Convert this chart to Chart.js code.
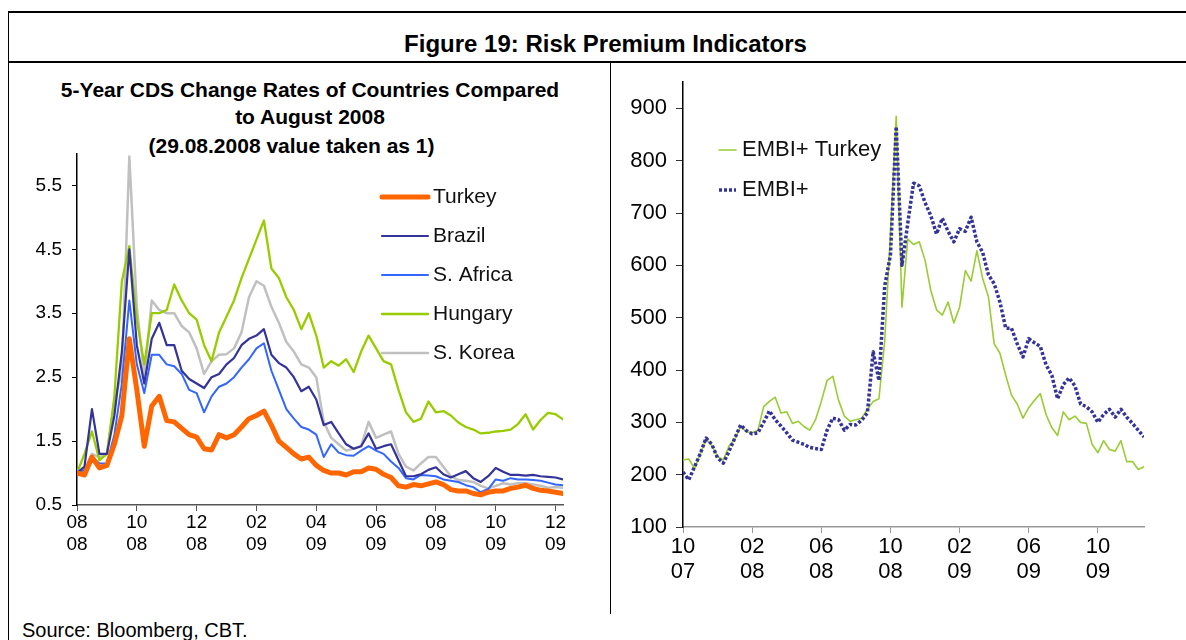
<!DOCTYPE html>
<html>
<head>
<meta charset="utf-8">
<title>Figure 19: Risk Premium Indicators</title>
<script src="https://cdn.jsdelivr.net/npm/chart.js@4.4.1/dist/chart.umd.min.js"></script>
<style>
  html, body { margin: 0; padding: 0; background: #fff; }
  body { position: relative; width: 1186px; height: 640px; overflow: hidden;
         font-family: 'Liberation Sans', Arial, sans-serif; color: #000; }
  .rule { position: absolute; background: #000; }
  .txt { position: absolute; white-space: nowrap; text-align: center; }
  canvas { position: absolute; }
</style>
</head>
<body>
  <!-- frame -->
  <div class="rule" style="left:8px;top:11px;width:1178px;height:1.5px;"></div>
  <div class="rule" style="left:7.5px;top:11px;width:1.5px;height:629px;"></div>
  <div class="rule" style="left:8px;top:61px;width:1178px;height:1.5px;"></div>
  <div class="rule" style="left:609.5px;top:61px;width:1.5px;height:553px;"></div>

  <div class="txt" style="left:0;width:1211px;top:30px;font:bold 24px/28px 'Liberation Sans',Arial,sans-serif;">Figure 19: Risk Premium Indicators</div>

  <div class="txt" style="left:0;width:620px;top:76px;font:bold 21px/27px 'Liberation Sans',Arial,sans-serif;">5-Year CDS Change Rates of Countries Compared<br>to August 2008</div>
  <div class="txt" style="left:0;width:583px;top:132px;font:bold 21px/27px 'Liberation Sans',Arial,sans-serif;">(29.08.2008 value taken as 1)</div>

  <div class="txt" style="left:22px;top:618px;text-align:left;font:20px/24px 'Liberation Sans',Arial,sans-serif;">Source: Bloomberg, CBT.</div>

  <canvas id="cds" width="580" height="428" style="left:0;top:132px;"></canvas>
  <canvas id="embi" width="574" height="550" style="left:612px;top:60px;"></canvas>

<script>
// ---- left panel: 5y CDS, 29.08.2008 = 1, one value per week ----
var cdsStep = 0.25;                       // months between points
var cdsTickPos = [0, 2, 4, 6, 8, 10, 12, 14, 16];
var cdsTickMonth = ['08', '10', '12', '02', '04', '06', '08', '10', '12'];
var cdsTickYear = ['08', '08', '08', '09', '09', '09', '09', '09', '09'];
var cdsYTicks = [0.5, 1.5, 2.5, 3.5, 4.5, 5.5];

var turkeyCds = [1.00,0.97,1.25,1.08,1.12,1.45,1.90,3.10,2.30,1.42,
  2.05,2.20,1.82,1.80,1.70,1.60,1.56,1.38,1.36,1.60,
  1.55,1.60,1.72,1.85,1.90,1.97,1.75,1.50,1.40,1.30,
  1.22,1.25,1.12,1.04,1.00,1.00,0.97,1.02,1.02,1.08,
  1.06,0.98,0.93,0.80,0.78,0.82,0.80,0.83,0.86,0.82,
  0.74,0.72,0.72,0.68,0.66,0.70,0.72,0.72,0.76,0.78,
  0.81,0.76,0.73,0.72,0.70,0.68];
var brazilCds = [1.00,1.10,2.00,1.30,1.30,1.90,2.90,4.50,3.00,2.40,
  3.10,3.35,3.00,3.00,2.60,2.47,2.40,2.33,2.50,2.55,
  2.70,2.80,3.00,3.10,3.15,3.25,2.85,2.72,2.65,2.50,
  2.28,2.35,2.15,1.75,1.80,1.62,1.45,1.38,1.42,1.62,
  1.38,1.42,1.45,1.20,0.95,0.95,0.98,1.05,1.09,0.98,
  0.93,0.98,1.03,0.92,0.86,0.95,1.08,1.02,0.97,0.97,
  0.96,0.97,0.95,0.94,0.93,0.90];
var safricaCds = [1.00,1.05,1.25,1.15,1.15,1.60,2.40,3.70,2.70,2.25,
  2.85,2.85,2.70,2.67,2.55,2.30,2.25,1.95,2.20,2.35,
  2.40,2.50,2.65,2.78,2.95,3.03,2.60,2.30,2.00,1.85,
  1.72,1.68,1.60,1.25,1.45,1.32,1.28,1.27,1.35,1.42,
  1.35,1.30,1.18,1.08,0.92,0.90,0.97,0.96,0.95,0.90,
  0.88,0.86,0.81,0.78,0.70,0.75,0.90,0.88,0.92,0.90,
  0.90,0.89,0.88,0.85,0.82,0.81];
var hungaryCds = [1.00,1.30,1.65,1.20,1.30,2.20,4.00,4.55,3.40,2.70,
  3.50,3.50,3.55,3.95,3.70,3.50,3.40,3.00,2.75,3.20,
  3.45,3.70,4.05,4.35,4.65,4.95,4.20,4.05,3.75,3.55,
  3.25,3.50,3.15,2.65,2.75,2.68,2.78,2.58,2.90,3.15,
  2.95,2.75,2.70,2.30,1.95,1.80,1.85,2.12,1.95,1.97,
  1.90,1.79,1.72,1.68,1.62,1.63,1.65,1.66,1.68,1.77,
  1.92,1.68,1.83,1.94,1.92,1.84];
var koreaCds = [1.00,1.05,1.30,1.25,1.30,2.10,2.60,5.95,3.60,2.50,
  3.70,3.55,3.50,3.50,3.30,3.20,2.95,2.55,2.75,2.85,
  2.86,2.95,3.20,3.75,4.00,3.93,3.60,3.35,3.05,2.90,
  2.70,2.65,2.50,1.80,1.55,1.45,1.35,1.38,1.42,1.80,
  1.55,1.60,1.65,1.30,1.10,1.04,1.15,1.25,1.25,1.10,
  0.95,0.89,0.88,0.86,0.80,0.76,0.80,0.84,0.82,0.84,
  0.84,0.82,0.80,0.77,0.78,0.77];

// ---- right panel: EMBI+ spreads (bp), three points per month from Oct 2007 ----
var embiStep = 1 / 3;
var embiTickPos = [0, 4, 8, 12, 16, 20, 24];
var embiTickMonth = ['10', '02', '06', '10', '02', '06', '10'];
var embiTickYear = ['07', '08', '08', '08', '09', '09', '09'];
var embiYTicks = [100, 200, 300, 400, 500, 600, 700, 800, 900];

var embiTurkey = [228,230,212,240,268,256,235,228,255,268,
  292,282,280,285,330,340,348,318,320,298,
  302,292,285,305,340,380,388,342,312,302,
  305,308,325,340,345,455,660,885,520,650,
  640,645,610,552,515,505,530,490,520,590,
  570,628,575,540,450,432,390,352,335,308,
  328,342,355,315,290,275,320,305,312,300,
  298,258,242,265,248,245,265,225,225,210,
  215];
var embiGlobal = [205,190,215,240,270,258,232,222,245,270,
  295,284,278,280,300,322,305,293,280,266,
  262,258,252,250,248,285,308,305,285,296,
  295,304,318,435,380,560,620,865,600,680,
  757,752,720,695,660,690,665,645,670,665,
  692,645,625,582,565,530,480,480,450,425,
  460,452,445,410,390,345,372,385,370,335,
  330,320,300,315,325,310,325,310,298,285,
  272];

var FONT = "'Liberation Sans', Arial, sans-serif";
Chart.defaults.font.family = FONT;
Chart.defaults.color = '#000';

function toPoints(values, step) {
    return values.map(function (v, i) { return { x: i * step, y: v }; });
}
function fixedTicks(list) {
    return function (scale) { scale.ticks = list.map(function (v) { return { value: v }; }); };
}

// legend drawn as a column of line samples at a given spot of the canvas
var lineLegend = {
    id: 'lineLegend',
    afterDraw: function (chart, args, o) {
        var ctx = chart.ctx;
        ctx.save();
        ctx.font = o.size + 'px ' + FONT;
        ctx.textBaseline = 'middle';
        o.order.forEach(function (di, row) {
            var ds = chart.data.datasets[di];
            var y = o.y + row * o.rowGap;
            ctx.strokeStyle = ds.borderColor;
            ctx.lineWidth = ds.borderWidth;
            ctx.lineCap = ds.borderDash ? 'butt' : 'round';
            ctx.setLineDash(ds.borderDash || []);
            ctx.beginPath();
            ctx.moveTo(o.x, y);
            ctx.lineTo(o.x + o.sample, y);
            ctx.stroke();
            ctx.setLineDash([]);
            ctx.fillStyle = '#111';
            ctx.fillText(ds.label, o.x + o.sample + o.gap, y);
        });
        ctx.restore();
    }
};

function series(label, values, step, color, width, extra) {
    var ds = { label: label, data: toPoints(values, step), borderColor: color,
        borderWidth: width, pointRadius: 0, tension: 0, fill: false,
        borderJoinStyle: 'round', borderCapStyle: 'round' };
    for (var k in extra) ds[k] = extra[k];
    return ds;
}

new Chart(document.getElementById('cds'), {
    type: 'line',
    data: { datasets: [
        series('Turkey', turkeyCds, cdsStep, '#FF6600', 5),
        series('Brazil', brazilCds, cdsStep, '#333399', 2.2),
        series('S. Africa', safricaCds, cdsStep, '#3366FF', 2),
        series('Hungary', hungaryCds, cdsStep, '#99CC00', 2.3),
        series('S. Korea', koreaCds, cdsStep, '#C0C0C0', 2.5)
    ] },
    plugins: [lineLegend],
    options: {
        responsive: false, animation: false, events: [],
        layout: { padding: { top: 4, right: 17, left: 0, bottom: 0 } },
        plugins: {
            legend: { display: false }, tooltip: { enabled: false },
            lineLegend: { x: 382, y: 65, rowGap: 39, sample: 46, gap: 5, size: 21, order: [0, 1, 2, 3, 4] }
        },
        scales: {
            x: {
                type: 'linear', min: 0, max: turkeyCds.length * cdsStep - cdsStep,
                afterBuildTicks: fixedTicks(cdsTickPos),
                afterFit: function (s) { s.height = 55; },
                ticks: { autoSkip: false, maxRotation: 0, padding: 1, font: { size: 19, lineHeight: 1.15 },
                    callback: function (v, i) { return [cdsTickMonth[i], cdsTickYear[i]]; } },
                grid: { drawOnChartArea: false, tickLength: 6, color: '#555' },
                border: { color: '#555', width: 1.5 }
            },
            y: {
                min: 0.5, max: 6.0,
                afterBuildTicks: fixedTicks(cdsYTicks),
                afterFit: function (s) { s.width = 77; },
                ticks: { padding: 10, font: { size: 19 },
                    callback: function (v) { return v.toFixed(1); } },
                grid: { drawOnChartArea: false, tickLength: 5, color: '#000' },
                border: { color: '#000', width: 1.5 }
            }
        }
    }
});

new Chart(document.getElementById('embi'), {
    type: 'line',
    data: { datasets: [
        series('EMBI+ Turkey', embiTurkey, embiStep, '#99CC33', 1.6, { order: 1 }),
        series('EMBI+', embiGlobal, embiStep, '#333399', 3.5, { order: 0, borderDash: [3, 2], borderCapStyle: 'butt' })
    ] },
    plugins: [lineLegend],
    options: {
        responsive: false, animation: false, events: [],
        layout: { padding: { top: 3, right: 42, left: 0, bottom: 0 } },
        plugins: {
            legend: { display: false }, tooltip: { enabled: false },
            lineLegend: { x: 107, y: 90, rowGap: 40, sample: 17, gap: 6, size: 22, order: [0, 1] }
        },
        scales: {
            x: {
                type: 'linear', min: 0, max: embiGlobal.length * embiStep - embiStep,
                afterBuildTicks: fixedTicks(embiTickPos),
                afterFit: function (s) { s.height = 83; },
                ticks: { autoSkip: false, maxRotation: 0, padding: 1, font: { size: 22, lineHeight: 1.15 },
                    callback: function (v, i) { return [embiTickMonth[i], embiTickYear[i]]; } },
                grid: { drawOnChartArea: false, tickLength: 6, color: '#999' },
                border: { color: '#999', width: 1.5 }
            },
            y: {
                min: 100, max: 950,
                afterBuildTicks: fixedTicks(embiYTicks),
                afterFit: function (s) { s.width = 71; },
                ticks: { padding: 9, font: { size: 22 } },
                grid: { drawOnChartArea: false, tickLength: 7, color: '#333' },
                border: { color: '#000', width: 1.5 }
            }
        }
    }
});
</script>
</body>
</html>
